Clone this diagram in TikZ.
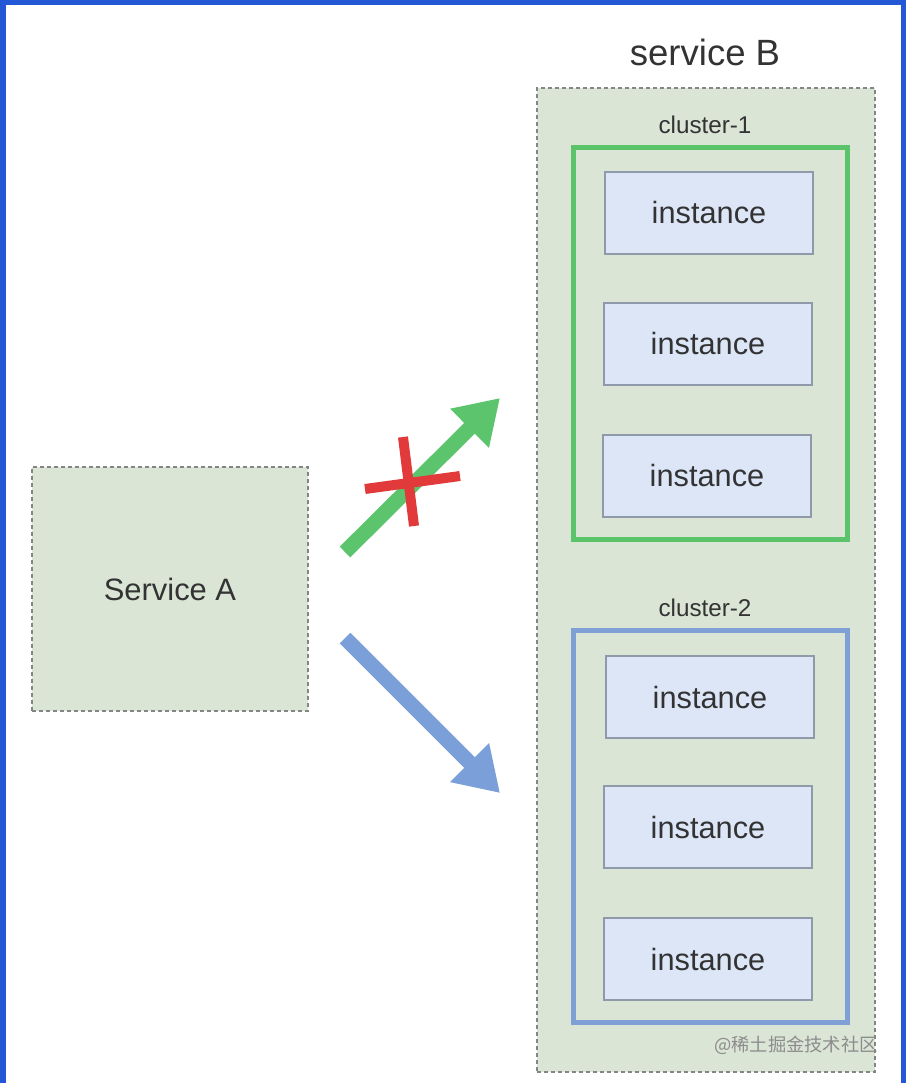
\documentclass[tikz,border=0pt]{standalone}
\usepackage{fontspec}
\setmainfont{Liberation Sans}
\newfontfamily\cjkfont{Noto Sans CJK SC}
\usetikzlibrary{arrows.meta}
\definecolor{frameblue}{HTML}{2457D6}
\definecolor{sage}{HTML}{DAE5D6}
\definecolor{instfill}{HTML}{DCE6F7}
\definecolor{instdraw}{HTML}{8E99AA}
\definecolor{cgreen}{HTML}{5BC46B}
\definecolor{cblue}{HTML}{7FA0D4}
\definecolor{agreen}{HTML}{5DC46E}
\definecolor{ablue}{HTML}{7B9FD9}
\definecolor{xred}{HTML}{E2393A}
\definecolor{txt}{HTML}{333333}
\definecolor{dashgray}{HTML}{858585}
\tikzset{
  svcbox/.style={draw=dashgray, fill=sage, line width=0.05cm, dash pattern=on 0.08cm off 0.06cm, inner sep=0pt},
  instbox/.style={draw=instdraw, fill=instfill, line width=0.03cm, minimum width=4.16cm, minimum height=1.64cm, inner sep=0pt, text=txt, font=\fontsize{17.5}{20}\selectfont},
  clusterbox/.style={line width=0.1cm, minimum width=5.48cm, minimum height=7.84cm, inner sep=0pt},
  lbl/.style={text=txt, inner sep=0pt},
  bigarrow/.style={line width=0.3cm, -{Triangle[length=0.86cm,width=1.04cm]}},
  crossline/.style={draw=xred, line width=0.2cm}
}
\begin{document}
\begin{tikzpicture}[x=0.02cm,y=-0.02cm]
\useasboundingbox (0,0) rectangle (906,1083);
\fill[white] (0,0) rectangle (906,1083);
% frame
\fill[frameblue] (0,0) rectangle (906,5);
\fill[frameblue] (0,0) rectangle (6,1083);
\fill[frameblue] (901,0) rectangle (906,1083);

% service B
\node[lbl, font=\fontsize{20.8}{24}\selectfont] (sbl) at (705,52) {service B};
\node[svcbox, minimum width=6.76cm, minimum height=19.68cm] (svcB) at (706,580) {};
\node[lbl, font=\fontsize{13.8}{16}\selectfont] (c1l) at (705,125) {cluster-1};
\node[lbl, font=\fontsize{13.8}{16}\selectfont] (c2l) at (705,608) {cluster-2};
\node[clusterbox, draw=cgreen] (c1) at (710.5,343.5) {};
\node[clusterbox, draw=cblue] (c2) at (710.5,826.5) {};

\node[instbox] (i1) at (709,213) {instance};
\node[instbox] (i2) at (708,344) {instance};
\node[instbox] (i3) at (707,476) {instance};
\node[instbox] (i4) at (710,697) {instance};
\node[instbox] (i5) at (708,827) {instance};
\node[instbox] (i6) at (708,959) {instance};

\node[lbl, text=black!45, font=\cjkfont\fontsize{10.4}{12}\selectfont] (wm) at (796,1045) {@稀土掘金技术社区};

% service A
\node[svcbox, minimum width=5.52cm, minimum height=4.88cm, text=txt, font=\fontsize{17.6}{20}\selectfont] (svcA) at (170,589) {Service A};

% arrows
\coordinate (g0) at (345,552);
\coordinate (g1) at (500,398);
\coordinate (b0) at (345,638);
\coordinate (b1) at (500,793);
\draw[bigarrow, draw=agreen, fill=agreen] (g0) -- (g1);
\draw[bigarrow, draw=ablue, fill=ablue] (b0) -- (b1);

% red cross
\coordinate (x0) at (365,489);
\coordinate (x1) at (460,476);
\coordinate (x2) at (403,437);
\coordinate (x3) at (414,526);
\draw[crossline] (x0) -- (x1);
\draw[crossline] (x2) -- (x3);
\end{tikzpicture}
\end{document}
